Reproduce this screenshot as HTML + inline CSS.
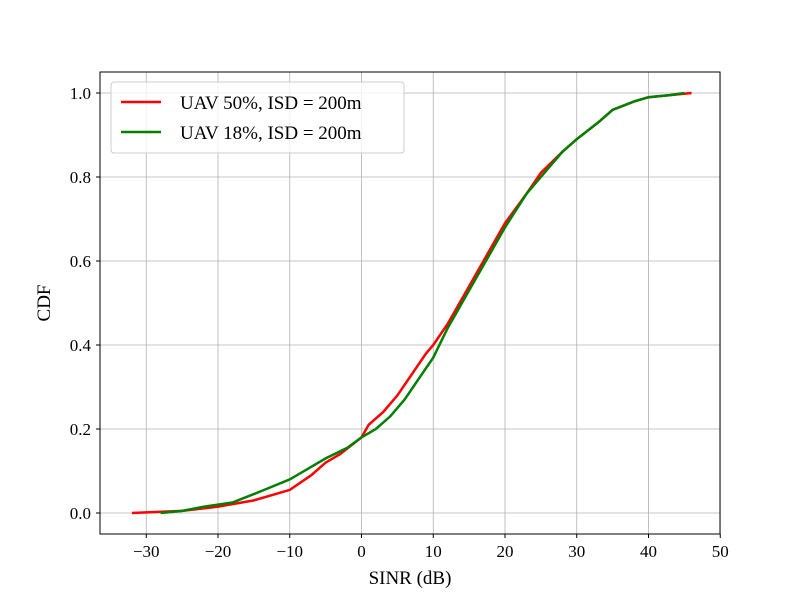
<!DOCTYPE html>
<html><head><meta charset="utf-8"><style>
body{margin:0;background:#fff}
svg{font-family:"Liberation Serif",serif}
</style></head><body>
<svg id="chart" width="800" height="600" viewBox="0 0 800 600" xmlns="http://www.w3.org/2000/svg">
<rect width="800" height="600" fill="#fff"/>
<g id="grid"></g>
<g id="series"></g>
<rect x="100" y="72" width="620" height="462" fill="none" stroke="#000" stroke-width="1"/>
<g id="ticks"></g>
<text x="410" y="584" font-size="19" text-anchor="middle">SINR (dB)</text>
<text x="50" y="303" font-size="19" text-anchor="middle" transform="rotate(-90 50 303)">CDF</text>
<g>
<rect x="111" y="82" width="293" height="71" rx="3" fill="#fff" fill-opacity="0.8" stroke="#ccc"/>
<g><line x1="121" y1="102" x2="161" y2="102" stroke="#f00" stroke-width="2.5"/><text x="180" y="109" font-size="19">UAV 50%, ISD = 200m</text></g>
<g><line x1="121" y1="132" x2="161" y2="132" stroke="#008000" stroke-width="2.5"/><text x="180" y="139" font-size="19">UAV 18%, ISD = 200m</text></g>
</g>
</svg>
<script>
const xTicks=[-30,-20,-10,0,10,20,30,40,50];
const yTicks=[0.0,0.2,0.4,0.6,0.8,1.0];
const redX=[-32,-25,-20,-15,-10,-7,-5,-3,0,1,3,5,7,9,10,12,15,18,20,23,25,28,30,33,35,38,40,43,46];
const redY=[0,0.005,0.015,0.03,0.055,0.09,0.12,0.14,0.18,0.21,0.24,0.28,0.33,0.38,0.40,0.45,0.54,0.63,0.69,0.76,0.81,0.86,0.89,0.93,0.96,0.98,0.99,0.995,1.0];
const greenX=[-28,-25,-22,-18,-15,-10,-7,-5,-2,0,2,4,6,8,10,12,15,18,20,23,25,28,30,33,35,38,40,43,45];
const greenY=[0,0.005,0.015,0.025,0.045,0.08,0.11,0.13,0.155,0.18,0.2,0.23,0.27,0.32,0.37,0.44,0.53,0.62,0.68,0.76,0.80,0.86,0.89,0.93,0.96,0.98,0.99,0.995,1.0];
const NS="http://www.w3.org/2000/svg";
const sx=v=>361.5+v*7.175;
const sy=v=>513-v*420;
const grid=document.getElementById('grid'),ticks=document.getElementById('ticks'),series=document.getElementById('series');
function mk(t,a,p){const e=document.createElementNS(NS,t);for(const k in a)e.setAttribute(k,a[k]);p.appendChild(e);return e;}
xTicks.forEach(v=>{const x=sx(v);
const g=mk('line',{x1:x,x2:x,y1:72,y2:534,stroke:'#b0b0b0','stroke-width':0.8},grid);


const t=mk('line',{x1:x,x2:x,y1:534,y2:538,stroke:'#000'},ticks);


const l=mk('text',{x:x,y:557,'font-size':17,'text-anchor':'middle'},ticks);l.textContent=(v<0?'\u2212'+(-v):v);

});
yTicks.forEach(v=>{const y=sy(v);
const g=mk('line',{x1:100,x2:720,y1:y,y2:y,stroke:'#b0b0b0','stroke-width':0.8},grid);


const t=mk('line',{x1:96,x2:100,y1:y,y2:y,stroke:'#000'},ticks);


const l=mk('text',{x:91,y:y+6,'font-size':17,'text-anchor':'end'},ticks);l.textContent=v.toFixed(1);

});
function line(xs,ys,c,n){const p=mk('polyline',{points:xs.map((x,i)=>sx(x)+','+sy(ys[i])).join(' '),fill:'none',stroke:c,'stroke-width':2.5},series);

}
line(redX,redY,'#f00','uav-50-line');
line(greenX,greenY,'#008000','uav-18-line');
</script>
</body></html>
